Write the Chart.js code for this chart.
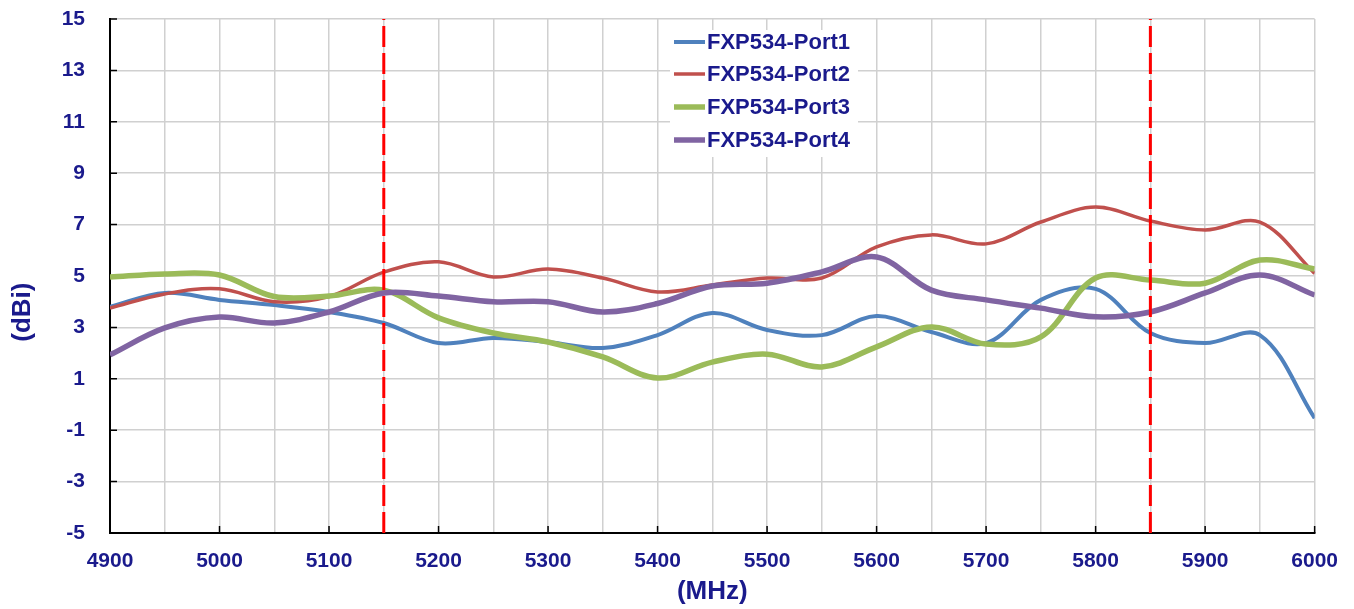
<!DOCTYPE html>
<html>
<head>
<meta charset="utf-8">
<title>FXP534 gain</title>
<script src="https://cdn.jsdelivr.net/npm/chart.js@4.4.1/dist/chart.umd.min.js"></script>
<style>
  body { margin: 0; background: #fff; }
  #wrap { width: 1354px; height: 609px; }
</style>
</head>
<body>
<div id="wrap"><canvas id="myChart"></canvas></div>
<script>
// Frequency points (MHz)
var freqs = [4900, 4950, 5000, 5050, 5100, 5150, 5200, 5250, 5300, 5350, 5400, 5450,
             5500, 5550, 5600, 5650, 5700, 5750, 5800, 5850, 5900, 5950, 6000];

// Gain per port (dBi)
var port1 = [3.8, 4.34, 4.07, 3.87, 3.6, 3.17, 2.39, 2.59, 2.43, 2.2, 2.7, 3.56,
             2.9, 2.7, 3.44, 2.82, 2.39, 4.07, 4.5, 2.78, 2.39, 2.7, -0.53];
var port2 = [3.75, 4.3, 4.5, 4.0, 4.2, 5.15, 5.55, 4.96, 5.27, 4.92, 4.38, 4.65,
             4.92, 4.92, 6.13, 6.6, 6.25, 7.1, 7.68, 7.14, 6.79, 7.1, 5.1];
var port3 = [4.96, 5.08, 5.04, 4.2, 4.22, 4.45, 3.37, 2.78, 2.43, 1.85, 1.03, 1.65,
             1.96, 1.46, 2.24, 3.02, 2.35, 2.63, 4.92, 4.84, 4.72, 5.62, 5.27];
var port4 = [1.93, 2.98, 3.4, 3.17, 3.6, 4.34, 4.22, 4.0, 4.0, 3.6, 3.93, 4.61,
             4.72, 5.16, 5.74, 4.45, 4.07, 3.75, 3.41, 3.6, 4.34, 5.04, 4.26];

var seriesNames = ['FXP534-Port1', 'FXP534-Port2', 'FXP534-Port3', 'FXP534-Port4'];

// Band edge markers (MHz) and axis range
var bandEdges = [5150, 5850];
var yMin = -5, yMax = 15;

var navy = '#1a1a8c';
var font = "'Liberation Sans', Arial, sans-serif";

function toPoints(vals) {
    return freqs.map(function (f, i) { return { x: f, y: vals[i] }; });
}

function portSet(label, vals, color, width, order) {
    return {
        label: label,
        data: toPoints(vals),
        borderColor: color,
        backgroundColor: color,
        borderWidth: width,
        pointRadius: 0,
        tension: 0.35,
        order: order
    };
}

function edgeSet(f) {
    return {
        label: 'edge',
        data: [{ x: f, y: yMin }, { x: f, y: yMax }],
        borderColor: '#ff0000',
        borderWidth: 3,
        borderDash: [21, 6],
        pointRadius: 0,
        order: 0
    };
}

// Small inward tick marks like the original
var innerTicks = {
    id: 'innerTicks',
    beforeDatasetsDraw: function (chart) {
        var ctx = chart.ctx, area = chart.chartArea;
        var xs = chart.scales.x, ys = chart.scales.y;
        ctx.save();
        ctx.strokeStyle = '#000';
        ctx.lineWidth = 1.5;
        ctx.beginPath();
        ys.ticks.forEach(function (t) {
            var y = ys.getPixelForValue(t.value);
            ctx.moveTo(area.left, y);
            ctx.lineTo(area.left + 7, y);
        });
        xs.ticks.forEach(function (t) {
            if (t.value % 100 !== 0) return;
            var x = xs.getPixelForValue(t.value);
            ctx.moveTo(x, area.bottom);
            ctx.lineTo(x, area.bottom - 7);
        });
        ctx.stroke();
        ctx.restore();
    }
};

// Legend box inside the plot
var boxLegend = {
    id: 'boxLegend',
    afterDraw: function (chart) {
        var ctx = chart.ctx;
        var left = 670, top = 30, w = 188, h = 127;
        ctx.save();
        ctx.fillStyle = '#fff';
        ctx.fillRect(left, top, w, h);
        ctx.font = 'bold 22px ' + font;
        ctx.textBaseline = 'middle';
        ctx.textAlign = 'left';
        var rowY = [42, 74, 107, 140];
        chart.data.datasets.forEach(function (ds) {
            var idx = seriesNames.indexOf(ds.label);
            if (idx < 0) return;
            var y = rowY[idx];
            ctx.strokeStyle = ds.borderColor;
            ctx.lineWidth = ds.borderWidth;
            ctx.beginPath();
            ctx.moveTo(674, y);
            ctx.lineTo(705, y);
            ctx.stroke();
            ctx.fillStyle = navy;
            ctx.fillText(ds.label, 707, y + 1);
        });
        ctx.restore();
    }
};

var ctx = document.getElementById('myChart').getContext('2d');
new Chart(ctx, {
    type: 'line',
    data: {
        datasets: [
            portSet(seriesNames[0], port1, '#4f81bd', 4, 4),
            portSet(seriesNames[1], port2, '#c0504d', 3.5, 3),
            portSet(seriesNames[2], port3, '#9bbb59', 5.5, 2),
            portSet(seriesNames[3], port4, '#8064a2', 5.5, 1),
            edgeSet(bandEdges[0]),
            edgeSet(bandEdges[1])
        ]
    },
    options: {
        responsive: true,
        maintainAspectRatio: false,
        animation: false,
        layout: { padding: { top: 19, right: 38, left: 0, bottom: 0 } },
        plugins: {
            legend: { display: false },
            tooltip: { enabled: false }
        },
        scales: {
            x: {
                type: 'linear',
                min: 4900,
                max: 6000,
                afterFit: function (scale) { scale.height = 76; },
                grid: { color: '#d0d0d0', lineWidth: 1.5, drawTicks: false },
                border: { color: '#000', width: 2 },
                ticks: {
                    stepSize: 50,
                    autoSkip: false,
                    maxRotation: 0,
                    padding: 16,
                    color: navy,
                    font: { family: font, size: 21, weight: 'bold' },
                    callback: function (v) { return v % 100 === 0 ? String(v) : ''; }
                },
                title: {
                    display: true,
                    text: '(MHz)',
                    color: navy,
                    font: { family: font, size: 26, weight: 'bold' },
                    padding: { top: 0, bottom: 2 }
                }
            },
            y: {
                min: yMin,
                max: yMax,
                afterFit: function (scale) { scale.width = 110; },
                grid: {
                    color: '#d0d0d0',
                    lineWidth: 1.5,
                    drawTicks: true,
                    tickLength: 25,
                    tickColor: 'rgba(0,0,0,0)'
                },
                border: { color: '#000', width: 2 },
                ticks: {
                    stepSize: 2,
                    padding: 0,
                    color: navy,
                    font: { family: font, size: 21, weight: 'bold' }
                },
                title: {
                    display: true,
                    text: '(dBi)          ',
                    color: navy,
                    font: { family: font, size: 26, weight: 'bold' },
                    padding: { top: 7, bottom: 0 }
                }
            }
        }
    },
    plugins: [innerTicks, boxLegend]
});
</script>
</body>
</html>
